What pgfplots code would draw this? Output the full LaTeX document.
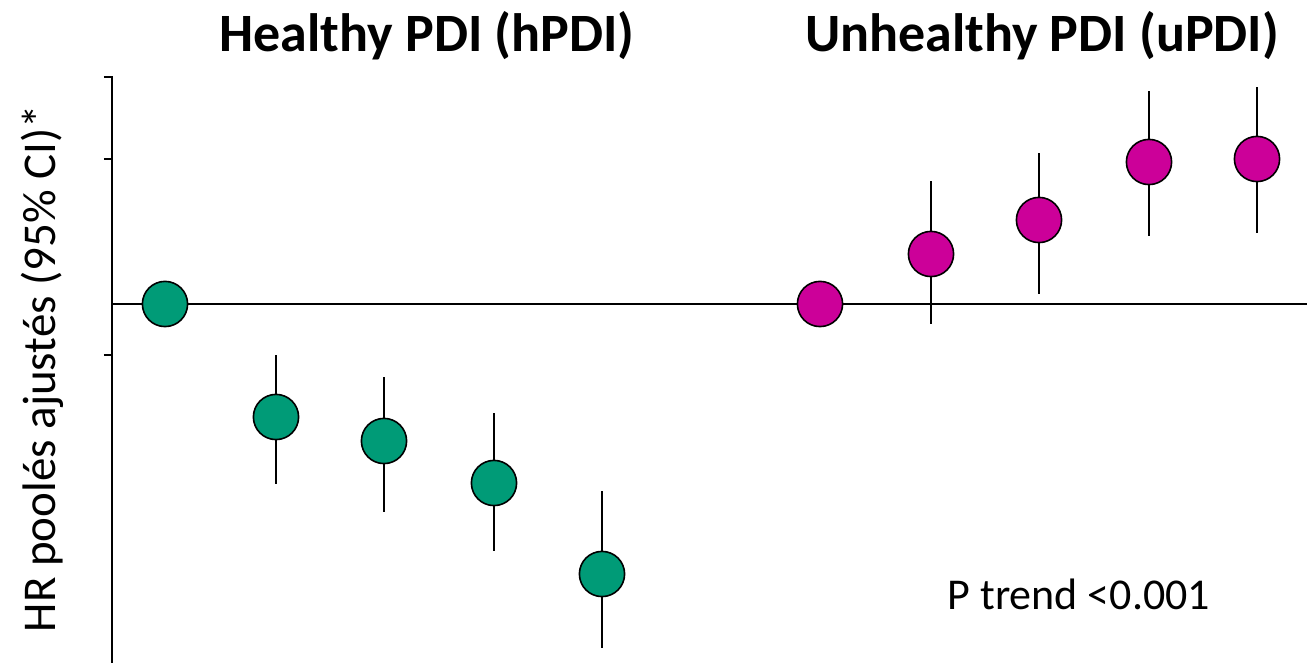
\documentclass[border=0pt]{standalone}
\usepackage{pgfplots}
\pgfplotsset{compat=1.18}
\usepackage{pgfplotstable}
\usepackage{fontspec}
\setmainfont{Carlito}
\definecolor{hgreen}{RGB}{0,155,119}
\definecolor{umag}{RGB}{204,0,153}
\pgfplotstableread{
x y ep em
165 359 0 0
276 246 62 67
384 222 64 71
494 180 70 68
602 89 83 74
}\hpdi
\pgfplotstableread{
x y ep em
820 359 0 0
931 409 73 70
1039 443 67 74
1149 501 71 74
1257 504 72 74
}\updi
\begin{document}
\begin{tikzpicture}
\begin{axis}[
  scale only axis,
  width=597.5pt, height=293.5pt,
  xmin=112, xmax=1307, ymin=0, ymax=587,
  axis y line*=left,
  axis x line=none,
  ytick={308,504,586}, yticklabels={},
  xtick=\empty,
  tick align=outside, major tick length=4pt,
  every tick/.style={black, line width=1.2pt},
  axis line style={black, line width=1.2pt},
  clip=false,
]
\addplot[black, line width=1pt, mark=none] coordinates {(112,359) (1307,359)};
\addplot[only marks, mark=*, mark size=11.3pt, mark options={fill=hgreen, draw=black, line width=0.8pt}] table[x=x,y=y] {\hpdi};
\addplot[only marks, mark=*, mark size=11.3pt, mark options={fill=umag, draw=black, line width=0.8pt}] table[x=x,y=y] {\updi};
\addplot[draw=none, mark=none, error bars/.cd, y dir=both, y explicit, error mark=none, error bar style={draw=black, line width=1pt, solid}] table[x=x, y=y, y error plus=ep, y error minus=em] {\hpdi};
\addplot[draw=none, mark=none, error bars/.cd, y dir=both, y explicit, error mark=none, error bar style={draw=black, line width=1pt, solid}] table[x=x, y=y, y error plus=ep, y error minus=em] {\updi};
\node[anchor=base, font=\fontsize{27}{32}\selectfont\bfseries] at (axis cs:427,611) {Healthy PDI (hPDI)};
\node[anchor=base, font=\fontsize{27}{32}\selectfont\bfseries] at (axis cs:1042,611) {Unhealthy PDI (uPDI)};
\node[anchor=base, rotate=90, font=\fontsize{23.5}{28}\selectfont] at (axis cs:56,294.5) {HR poolés ajustés (95\% CI)*};
\node[anchor=base, font=\fontsize{22}{26}\selectfont] at (axis cs:1079,53) {P trend <0.001};
\coordinate (bl) at (axis cs:0,0);
\coordinate (tr) at (axis cs:1307,663);
\end{axis}
\pgfresetboundingbox
\path[use as bounding box] (bl) rectangle (tr);
\end{tikzpicture}
\end{document}
